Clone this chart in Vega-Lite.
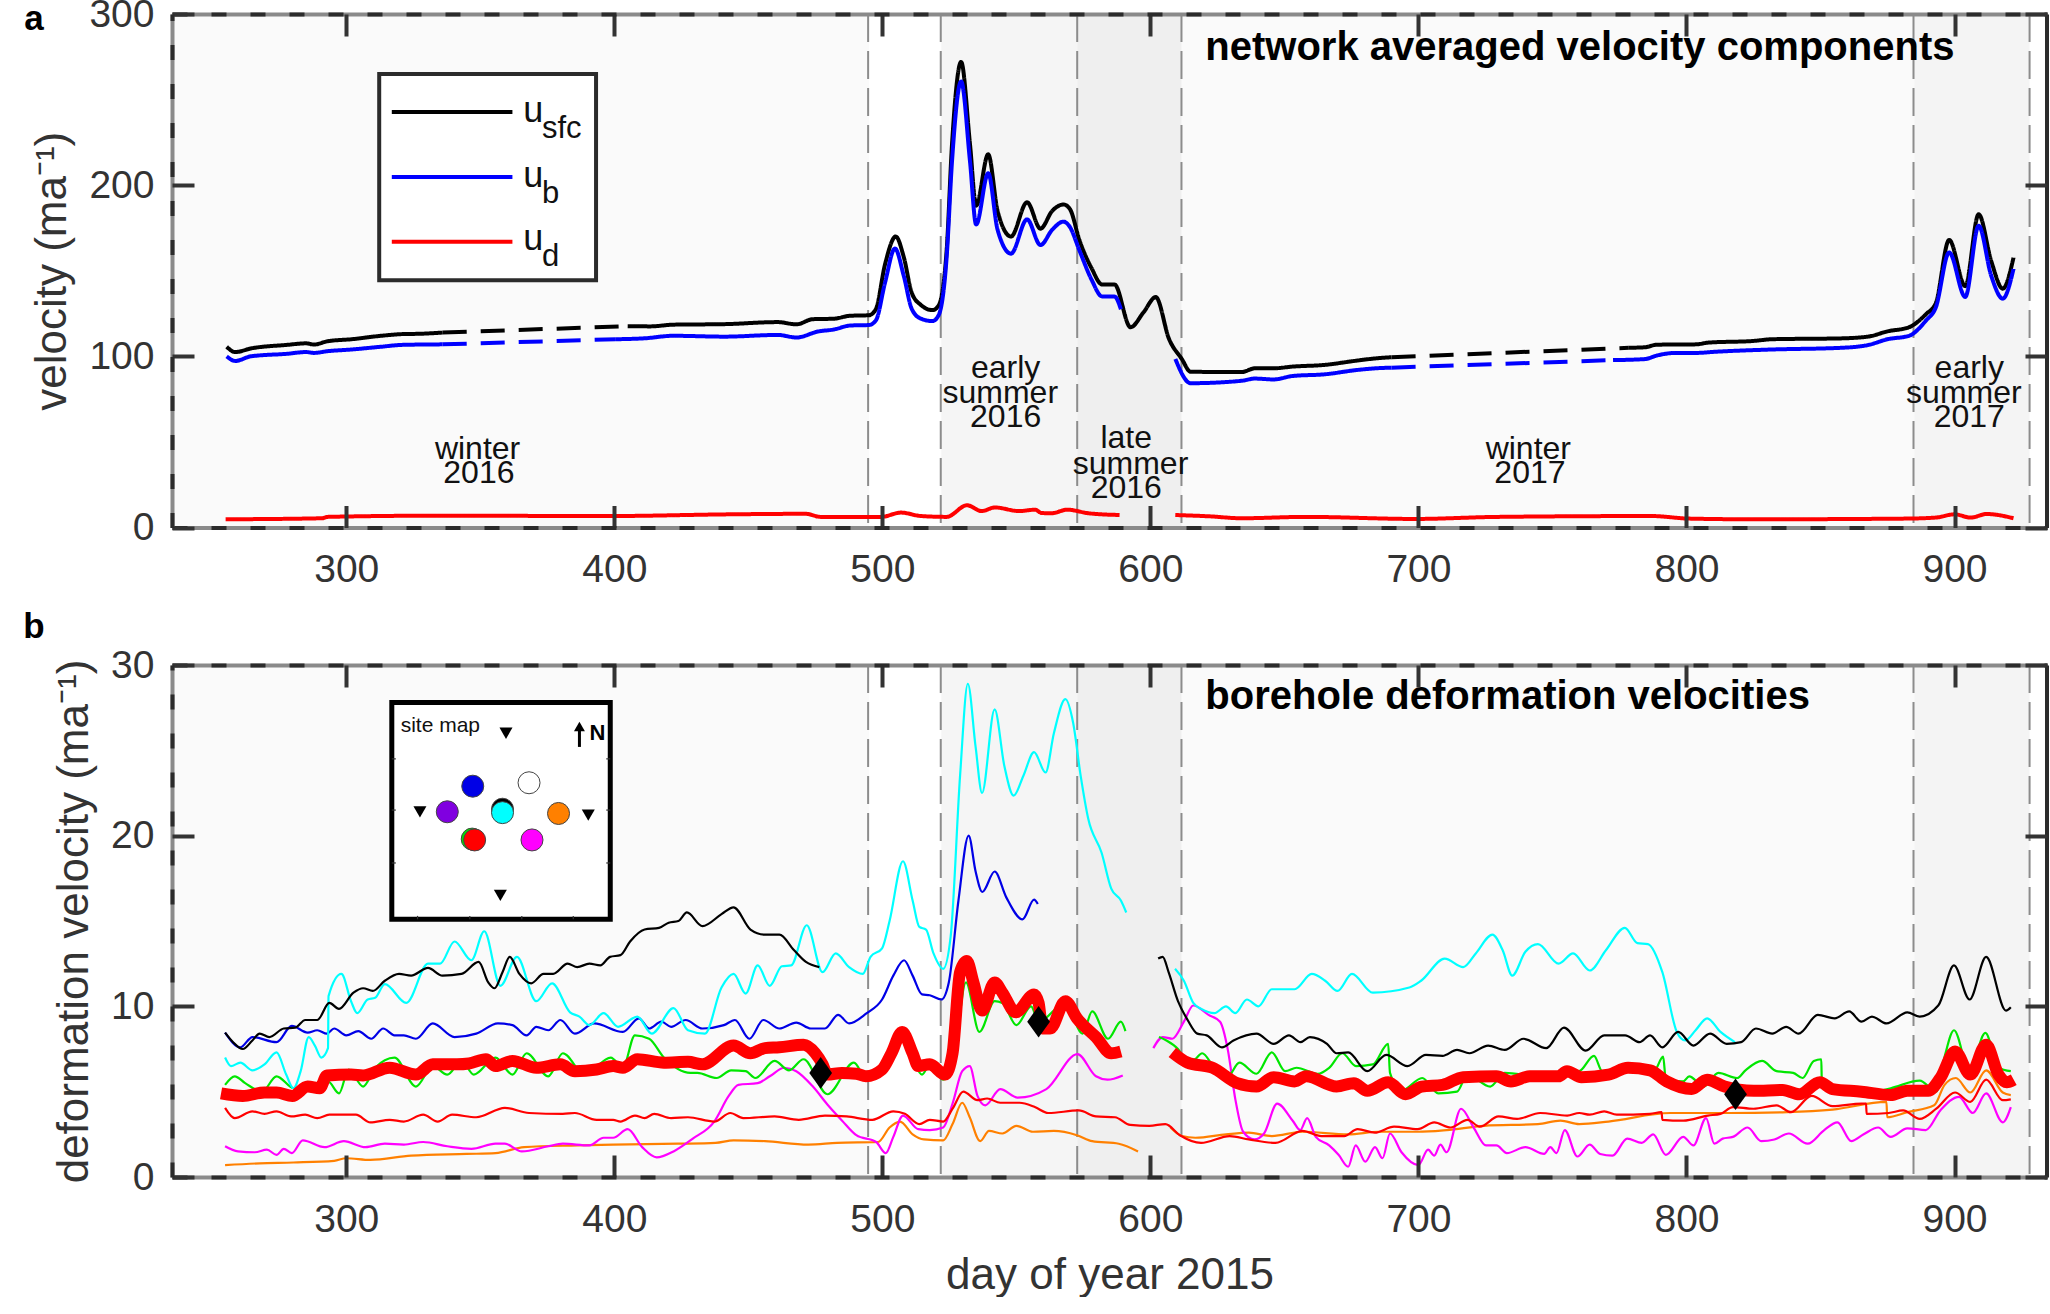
{"$schema":"https://vega.github.io/schema/vega-lite/v6.json","bounds":"flush","spacing":137,"padding":{"left":23,"top":-5,"right":0,"bottom":0},"background":"white","config":{"view":{"stroke":null},"font":"Liberation Sans"},
"resolve":{"scale":{"color":"independent"}},
"datasets":{
"frame":[{"x":300,"v":10}],
"shade":[{"season":"winter 2016","x":235,"x1":495},{"season":"gap","x":495,"x1":522},{"season":"early summer 2016","x":522,"x1":572.7},{"season":"late summer 2016","x":572.7,"x1":611.7},{"season":"winter 2017","x":611.7,"x1":885},{"season":"early summer 2017","x":885,"x1":928}],
"bounds":[{"x":494.7},{"x":521.8},{"x":572.7},{"x":611.6},{"x":884.7},{"x":928}],
"seasonText":[{"x":349,"v":45.8,"t":"winter"},{"x":349.5,"v":31.9,"t":"2016"},{"x":546,"v":93,"t":"early"},{"x":544,"v":78.6,"t":"summer"},{"x":546,"v":64.7,"t":"2016"},{"x":591,"v":52,"t":"late"},{"x":592.6,"v":37,"t":"summer"},{"x":591,"v":22.9,"t":"2016"},{"x":741,"v":45.8,"t":"winter"},{"x":741.6,"v":31.9,"t":"2017"},{"x":905.5,"v":93,"t":"early"},{"x":903.5,"v":78.6,"t":"summer"},{"x":905.5,"v":64.7,"t":"2017"}],
"legendBox":[{"x":312.3,"x1":393.2,"v":265,"v1":144.5}],
"legendLines":[{"s":"usfc","x":317,"x1":362,"v":242.8},{"s":"ub","x":317,"x1":362,"v":204.8},{"s":"ud","x":317,"x1":362,"v":167}],
"legendU":[{"x":366,"v":243.5,"t":"u"},{"x":366,"v":205.5,"t":"u"},{"x":366,"v":168.5,"t":"u"}],
"legendSub":[{"x":373,"v":233,"t":"sfc"},{"x":373,"v":195,"t":"b"},{"x":373,"v":158,"t":"d"}],
"insetBox":[{"x":317,"x1":398.5,"v":27.8,"v1":15.1}],
"insetTicks":[{"x":326.6,"x1":326.6,"v":15.1,"v1":15.3},{"x":346.1,"x1":346.1,"v":15.1,"v1":15.3},{"x":365.5,"x1":365.5,"v":15.1,"v1":15.3},{"x":384.7,"x1":384.7,"v":15.1,"v1":15.3},{"x":317,"x1":318.5,"v":24.5,"v1":24.5},{"x":317,"x1":318.5,"v":21.5,"v1":21.5},{"x":317,"x1":318.5,"v":18.4,"v1":18.4},{"x":397,"x1":398.5,"v":24.5,"v1":24.5},{"x":397,"x1":398.5,"v":21.5,"v1":21.5},{"x":397,"x1":398.5,"v":18.4,"v1":18.4}],
"sites":[{"s":"blue","x":347.2,"v":22.9},{"s":"white","x":368.2,"v":23.1},{"s":"purple","x":337.7,"v":21.4},{"s":"black","x":358.3,"v":21.55},{"s":"cyan","x":358.3,"v":21.35},{"s":"orange","x":379.2,"v":21.3},{"s":"green","x":347,"v":19.8},{"s":"red","x":347.9,"v":19.75},{"s":"magenta","x":369.3,"v":19.75}],
"stakes":[{"x":359.6,"v":26},{"x":327.5,"v":21.4},{"x":390.3,"v":21.2},{"x":357.5,"v":16.5}],
"arrow":[{"x":387,"v":25.2,"v1":26.4}],
"arrowHead":[{"x":387,"v":26.4}],
"diamonds":[{"x":477,"v":6.1},{"x":558.3,"v":9.1},{"x":818.3,"v":4.85}],
"vel":[
{"s":"usfc","g":1,"k":"solid","x":255.4,"v":105.6},{"s":"usfc","g":1,"k":"solid","x":258.6,"v":102.5},{"s":"usfc","g":1,"k":"solid","x":264.4,"v":104.6},{"s":"usfc","g":1,"k":"solid","x":278,"v":106.7},{"s":"usfc","g":1,"k":"solid","x":285,"v":107.6},{"s":"usfc","g":1,"k":"solid","x":288,"v":106.9},{"s":"usfc","g":1,"k":"solid","x":293,"v":108.8},{"s":"usfc","g":1,"k":"solid","x":302,"v":110},{"s":"usfc","g":1,"k":"solid","x":313,"v":112},{"s":"usfc","g":1,"k":"solid","x":321,"v":113},{"s":"usfc","g":1,"k":"solid","x":328,"v":113.2},{"s":"usfc","g":1,"k":"solid","x":336,"v":113.9},
{"s":"usfc","g":2,"k":"dashed","x":336,"v":113.9},{"s":"usfc","g":2,"k":"dashed","x":405,"v":117.6},
{"s":"usfc","g":3,"k":"solid","x":405,"v":117.6},{"s":"usfc","g":3,"k":"solid","x":413.5,"v":117.5},{"s":"usfc","g":3,"k":"solid","x":422,"v":118.5},{"s":"usfc","g":3,"k":"solid","x":441,"v":118.8},{"s":"usfc","g":3,"k":"solid","x":461,"v":120},{"s":"usfc","g":3,"k":"solid","x":468,"v":118.7},{"s":"usfc","g":3,"k":"solid","x":474,"v":121.7},{"s":"usfc","g":3,"k":"solid","x":482,"v":122},{"s":"usfc","g":3,"k":"solid","x":488,"v":123.7},{"s":"usfc","g":3,"k":"solid","x":495,"v":124},{"s":"usfc","g":3,"k":"solid","x":497.6,"v":127.6},{"s":"usfc","g":3,"k":"solid","x":501,"v":153.7},{"s":"usfc","g":3,"k":"solid","x":505,"v":170},{"s":"usfc","g":3,"k":"solid","x":508,"v":158},{"s":"usfc","g":3,"k":"solid","x":511,"v":137},{"s":"usfc","g":3,"k":"solid","x":514.4,"v":130},{"s":"usfc","g":3,"k":"solid","x":518.7,"v":127},{"s":"usfc","g":3,"k":"solid","x":521,"v":129.7},{"s":"usfc","g":3,"k":"solid","x":524,"v":162},{"s":"usfc","g":3,"k":"solid","x":526,"v":224},{"s":"usfc","g":3,"k":"solid","x":529.4,"v":272},{"s":"usfc","g":3,"k":"solid","x":532.7,"v":224},{"s":"usfc","g":3,"k":"solid","x":535,"v":188},{"s":"usfc","g":3,"k":"solid","x":539.5,"v":218},{"s":"usfc","g":3,"k":"solid","x":543,"v":185},{"s":"usfc","g":3,"k":"solid","x":548,"v":170},{"s":"usfc","g":3,"k":"solid","x":554,"v":190},{"s":"usfc","g":3,"k":"solid","x":559,"v":174.6},{"s":"usfc","g":3,"k":"solid","x":563.4,"v":185},{"s":"usfc","g":3,"k":"solid","x":567.6,"v":188.7},{"s":"usfc","g":3,"k":"solid","x":570,"v":186},{"s":"usfc","g":3,"k":"solid","x":573.5,"v":168},{"s":"usfc","g":3,"k":"solid","x":578,"v":151.7},{"s":"usfc","g":3,"k":"solid","x":582,"v":142},{"s":"usfc","g":3,"k":"solid","x":586.6,"v":142},{"s":"usfc","g":3,"k":"solid","x":592.6,"v":117},{"s":"usfc","g":3,"k":"solid","x":597.4,"v":125.6},{"s":"usfc","g":3,"k":"solid","x":602,"v":134.6},{"s":"usfc","g":3,"k":"solid","x":607,"v":110},{"s":"usfc","g":3,"k":"solid","x":611.7,"v":98.5},{"s":"usfc","g":3,"k":"solid","x":615,"v":91},{"s":"usfc","g":3,"k":"solid","x":634,"v":90.8},{"s":"usfc","g":3,"k":"solid","x":639,"v":93},{"s":"usfc","g":3,"k":"solid","x":646,"v":93},{"s":"usfc","g":3,"k":"solid","x":653,"v":94},{"s":"usfc","g":3,"k":"solid","x":665,"v":95},{"s":"usfc","g":3,"k":"solid","x":677,"v":97.5},{"s":"usfc","g":3,"k":"solid","x":684,"v":98.8},{"s":"usfc","g":3,"k":"solid","x":690,"v":99.5},
{"s":"usfc","g":4,"k":"dashed","x":690,"v":99.5},{"s":"usfc","g":4,"k":"dashed","x":778.5,"v":105},
{"s":"usfc","g":5,"k":"solid","x":778.5,"v":105},{"s":"usfc","g":5,"k":"solid","x":784.5,"v":105.3},{"s":"usfc","g":5,"k":"solid","x":789,"v":106.8},{"s":"usfc","g":5,"k":"solid","x":803.6,"v":107},{"s":"usfc","g":5,"k":"solid","x":808,"v":108},{"s":"usfc","g":5,"k":"solid","x":825,"v":109},{"s":"usfc","g":5,"k":"solid","x":832,"v":110},{"s":"usfc","g":5,"k":"solid","x":858,"v":110.5},{"s":"usfc","g":5,"k":"solid","x":868,"v":111.6},{"s":"usfc","g":5,"k":"solid","x":875,"v":114.6},{"s":"usfc","g":5,"k":"solid","x":883,"v":117},{"s":"usfc","g":5,"k":"solid","x":889.4,"v":124.7},{"s":"usfc","g":5,"k":"solid","x":893,"v":131},{"s":"usfc","g":5,"k":"solid","x":898,"v":168},{"s":"usfc","g":5,"k":"solid","x":904,"v":141},{"s":"usfc","g":5,"k":"solid","x":909,"v":183},{"s":"usfc","g":5,"k":"solid","x":913.7,"v":155.6},{"s":"usfc","g":5,"k":"solid","x":918,"v":139.5},{"s":"usfc","g":5,"k":"solid","x":922,"v":157.6},
{"s":"ub","g":1,"k":"solid","x":255.4,"v":100},{"s":"ub","g":1,"k":"solid","x":258.6,"v":97.3},{"s":"ub","g":1,"k":"solid","x":264.4,"v":100},{"s":"ub","g":1,"k":"solid","x":278,"v":101.5},{"s":"ub","g":1,"k":"solid","x":285,"v":102.5},{"s":"ub","g":1,"k":"solid","x":288,"v":102},{"s":"ub","g":1,"k":"solid","x":293,"v":103},{"s":"ub","g":1,"k":"solid","x":302,"v":104},{"s":"ub","g":1,"k":"solid","x":313,"v":105.6},{"s":"ub","g":1,"k":"solid","x":321,"v":106.7},{"s":"ub","g":1,"k":"solid","x":336,"v":107},
{"s":"ub","g":2,"k":"dashed","x":336,"v":107},{"s":"ub","g":2,"k":"dashed","x":400.6,"v":110},
{"s":"ub","g":3,"k":"solid","x":400.6,"v":110},{"s":"ub","g":3,"k":"solid","x":411,"v":110.5},{"s":"ub","g":3,"k":"solid","x":422,"v":112},{"s":"ub","g":3,"k":"solid","x":441,"v":111.5},{"s":"ub","g":3,"k":"solid","x":461,"v":112.5},{"s":"ub","g":3,"k":"solid","x":468,"v":111},{"s":"ub","g":3,"k":"solid","x":476,"v":114.5},{"s":"ub","g":3,"k":"solid","x":482,"v":115.7},{"s":"ub","g":3,"k":"solid","x":488,"v":118},{"s":"ub","g":3,"k":"solid","x":495,"v":118.3},{"s":"ub","g":3,"k":"solid","x":497.6,"v":121},{"s":"ub","g":3,"k":"solid","x":501,"v":143},{"s":"ub","g":3,"k":"solid","x":504.7,"v":163},{"s":"ub","g":3,"k":"solid","x":508,"v":147},{"s":"ub","g":3,"k":"solid","x":511,"v":127.6},{"s":"ub","g":3,"k":"solid","x":514.4,"v":122},{"s":"ub","g":3,"k":"solid","x":518.7,"v":120.6},{"s":"ub","g":3,"k":"solid","x":521,"v":124},{"s":"ub","g":3,"k":"solid","x":524,"v":158},{"s":"ub","g":3,"k":"solid","x":526,"v":214},{"s":"ub","g":3,"k":"solid","x":529.4,"v":260.6},{"s":"ub","g":3,"k":"solid","x":532.7,"v":214},{"s":"ub","g":3,"k":"solid","x":535,"v":177},{"s":"ub","g":3,"k":"solid","x":539.5,"v":207},{"s":"ub","g":3,"k":"solid","x":543,"v":174},{"s":"ub","g":3,"k":"solid","x":548,"v":160},{"s":"ub","g":3,"k":"solid","x":554,"v":180},{"s":"ub","g":3,"k":"solid","x":559,"v":165},{"s":"ub","g":3,"k":"solid","x":563.4,"v":174},{"s":"ub","g":3,"k":"solid","x":567.6,"v":178.7},{"s":"ub","g":3,"k":"solid","x":570,"v":175.5},{"s":"ub","g":3,"k":"solid","x":573.5,"v":162},{"s":"ub","g":3,"k":"solid","x":578,"v":145},{"s":"ub","g":3,"k":"solid","x":582,"v":135},{"s":"ub","g":3,"k":"solid","x":586.6,"v":135},{"s":"ub","g":3,"k":"solid","x":589,"v":127.5},
{"s":"ub","g":4,"k":"solid","x":609.3,"v":98.5},{"s":"ub","g":4,"k":"solid","x":615,"v":84.3},{"s":"ub","g":4,"k":"solid","x":634,"v":85.7},{"s":"ub","g":4,"k":"solid","x":639,"v":87},{"s":"ub","g":4,"k":"solid","x":646,"v":86.5},{"s":"ub","g":4,"k":"solid","x":653,"v":88.5},{"s":"ub","g":4,"k":"solid","x":665,"v":89.5},{"s":"ub","g":4,"k":"solid","x":677,"v":92},{"s":"ub","g":4,"k":"solid","x":684,"v":93},{"s":"ub","g":4,"k":"solid","x":690,"v":93.4},
{"s":"ub","g":5,"k":"dashed","x":690,"v":93.4},{"s":"ub","g":5,"k":"dashed","x":772.6,"v":97.8},
{"s":"ub","g":6,"k":"solid","x":772.6,"v":97.8},{"s":"ub","g":6,"k":"solid","x":784.5,"v":98.4},{"s":"ub","g":6,"k":"solid","x":789,"v":100.5},{"s":"ub","g":6,"k":"solid","x":796,"v":102},{"s":"ub","g":6,"k":"solid","x":803.6,"v":102},{"s":"ub","g":6,"k":"solid","x":811,"v":102.7},{"s":"ub","g":6,"k":"solid","x":832,"v":104},{"s":"ub","g":6,"k":"solid","x":858,"v":105},{"s":"ub","g":6,"k":"solid","x":868,"v":106.7},{"s":"ub","g":6,"k":"solid","x":875,"v":110},{"s":"ub","g":6,"k":"solid","x":883,"v":112},{"s":"ub","g":6,"k":"solid","x":889.4,"v":121},{"s":"ub","g":6,"k":"solid","x":893,"v":128.5},{"s":"ub","g":6,"k":"solid","x":898,"v":160.7},{"s":"ub","g":6,"k":"solid","x":904,"v":134.7},{"s":"ub","g":6,"k":"solid","x":909,"v":176.3},{"s":"ub","g":6,"k":"solid","x":913.7,"v":147},{"s":"ub","g":6,"k":"solid","x":918,"v":133.7},{"s":"ub","g":6,"k":"solid","x":922,"v":151},
{"s":"ud","g":1,"k":"solid","x":255,"v":4.8},{"s":"ud","g":1,"k":"solid","x":291,"v":5.4},{"s":"ud","g":1,"k":"solid","x":293,"v":6.2},{"s":"ud","g":1,"k":"solid","x":334,"v":6.9},{"s":"ud","g":1,"k":"solid","x":398,"v":6.7},{"s":"ud","g":1,"k":"solid","x":443.5,"v":7.7},{"s":"ud","g":1,"k":"solid","x":471.4,"v":8},{"s":"ud","g":1,"k":"solid","x":477,"v":6.2},{"s":"ud","g":1,"k":"solid","x":499.5,"v":6.2},{"s":"ud","g":1,"k":"solid","x":507,"v":8.7},{"s":"ud","g":1,"k":"solid","x":514.4,"v":6.7},{"s":"ud","g":1,"k":"solid","x":524,"v":6.2},{"s":"ud","g":1,"k":"solid","x":531.6,"v":13},{"s":"ud","g":1,"k":"solid","x":537,"v":9.6},{"s":"ud","g":1,"k":"solid","x":542,"v":11.7},{"s":"ud","g":1,"k":"solid","x":551,"v":9.6},{"s":"ud","g":1,"k":"solid","x":557,"v":10.4},{"s":"ud","g":1,"k":"solid","x":559.4,"v":8.5},{"s":"ud","g":1,"k":"solid","x":563,"v":8.3},{"s":"ud","g":1,"k":"solid","x":569,"v":10.4},{"s":"ud","g":1,"k":"solid","x":577,"v":8.3},{"s":"ud","g":1,"k":"solid","x":588.5,"v":7.3},
{"s":"ud","g":2,"k":"solid","x":609.3,"v":7.3},{"s":"ud","g":2,"k":"solid","x":622.4,"v":6.5},{"s":"ud","g":2,"k":"solid","x":634,"v":5.4},{"s":"ud","g":2,"k":"solid","x":658,"v":6.2},{"s":"ud","g":2,"k":"solid","x":698.7,"v":5},{"s":"ud","g":2,"k":"solid","x":729.7,"v":6.2},{"s":"ud","g":2,"k":"solid","x":787,"v":6.7},{"s":"ud","g":2,"k":"solid","x":801,"v":5.2},{"s":"ud","g":2,"k":"solid","x":825,"v":4.8},{"s":"ud","g":2,"k":"solid","x":882,"v":5.2},{"s":"ud","g":2,"k":"solid","x":893,"v":5.8},{"s":"ud","g":2,"k":"solid","x":900,"v":7.7},{"s":"ud","g":2,"k":"solid","x":906,"v":5.8},{"s":"ud","g":2,"k":"solid","x":912,"v":7.9},{"s":"ud","g":2,"k":"solid","x":922,"v":5.4}
],
"def":[
{"s":"orange","g":1,"x":254.8,"v":0.7},{"s":"orange","g":1,"x":267.7,"v":0.8},{"s":"orange","g":1,"x":280.3,"v":0.85},{"s":"orange","g":1,"x":295.5,"v":0.95},{"s":"orange","g":1,"x":300,"v":1.1},{"s":"orange","g":1,"x":309,"v":1},{"s":"orange","g":1,"x":324.2,"v":1.25},{"s":"orange","g":1,"x":344.9,"v":1.35},{"s":"orange","g":1,"x":355.7,"v":1.4},{"s":"orange","g":1,"x":366.4,"v":1.75},{"s":"orange","g":1,"x":386.2,"v":1.85},{"s":"orange","g":1,"x":399.6,"v":1.9},{"s":"orange","g":1,"x":423.9,"v":1.95},{"s":"orange","g":1,"x":437.8,"v":2},{"s":"orange","g":1,"x":444.5,"v":2.15},{"s":"orange","g":1,"x":456.2,"v":2.1},{"s":"orange","g":1,"x":472.4,"v":1.9},{"s":"orange","g":1,"x":483.1,"v":2},{"s":"orange","g":1,"x":498.4,"v":2.05},{"s":"orange","g":1,"x":502.7,"v":2.9},{"s":"orange","g":1,"x":506.6,"v":3.25},{"s":"orange","g":1,"x":511.3,"v":2.5},{"s":"orange","g":1,"x":515.5,"v":2.2},{"s":"orange","g":1,"x":522.7,"v":2.15},{"s":"orange","g":1,"x":526.2,"v":3.1},{"s":"orange","g":1,"x":529.8,"v":4.35},{"s":"orange","g":1,"x":532.6,"v":3.5},{"s":"orange","g":1,"x":536.5,"v":2.1},{"s":"orange","g":1,"x":539.8,"v":2.7},{"s":"orange","g":1,"x":544.8,"v":2.55},{"s":"orange","g":1,"x":550,"v":3},{"s":"orange","g":1,"x":556.2,"v":2.65},{"s":"orange","g":1,"x":564,"v":2.7},{"s":"orange","g":1,"x":572.6,"v":2.45},{"s":"orange","g":1,"x":578.3,"v":2.1},{"s":"orange","g":1,"x":588.2,"v":1.95},{"s":"orange","g":1,"x":595.4,"v":1.5},
{"s":"orange","g":2,"x":607.5,"v":2.9},{"s":"orange","g":2,"x":611.8,"v":2.4},{"s":"orange","g":2,"x":616.8,"v":2.3},{"s":"orange","g":2,"x":628.2,"v":2.5},{"s":"orange","g":2,"x":636.7,"v":2.6},{"s":"orange","g":2,"x":645.3,"v":2.4},{"s":"orange","g":2,"x":656.7,"v":2.65},{"s":"orange","g":2,"x":673.8,"v":2.5},{"s":"orange","g":2,"x":685.2,"v":2.65},{"s":"orange","g":2,"x":699.7,"v":2.65},{"s":"orange","g":2,"x":710.5,"v":2.75},{"s":"orange","g":2,"x":724.5,"v":3},{"s":"orange","g":2,"x":744.6,"v":3.1},{"s":"orange","g":2,"x":753,"v":3.3},{"s":"orange","g":2,"x":760,"v":3.1},{"s":"orange","g":2,"x":770.9,"v":3.25},{"s":"orange","g":2,"x":794,"v":3.75},{"s":"orange","g":2,"x":815.8,"v":3.75},{"s":"orange","g":2,"x":837.5,"v":3.8},{"s":"orange","g":2,"x":854.5,"v":3.95},{"s":"orange","g":2,"x":874.6,"v":4.4},{"s":"orange","g":2,"x":874.9,"v":3.5},{"s":"orange","g":2,"x":882.4,"v":3.8},{"s":"orange","g":2,"x":892.4,"v":4.2},{"s":"orange","g":2,"x":896.3,"v":5.4},{"s":"orange","g":2,"x":900.5,"v":5.8},{"s":"orange","g":2,"x":905.9,"v":4.95},{"s":"orange","g":2,"x":911.8,"v":6.25},{"s":"orange","g":2,"x":918,"v":4.95},{"s":"orange","g":2,"x":921,"v":4.8},
{"s":"magenta","g":1,"x":254.8,"v":1.8},{"s":"magenta","g":1,"x":259.6,"v":1.5},{"s":"magenta","g":1,"x":265.9,"v":1.45},{"s":"magenta","g":1,"x":270.4,"v":1.6},{"s":"magenta","g":1,"x":274,"v":1.3},{"s":"magenta","g":1,"x":276.7,"v":1.65},{"s":"magenta","g":1,"x":279.7,"v":1.4},{"s":"magenta","g":1,"x":283.8,"v":2.15},{"s":"magenta","g":1,"x":291.9,"v":1.75},{"s":"magenta","g":1,"x":299.1,"v":2.1},{"s":"magenta","g":1,"x":307.2,"v":1.75},{"s":"magenta","g":1,"x":314.4,"v":1.95},{"s":"magenta","g":1,"x":321.5,"v":1.9},{"s":"magenta","g":1,"x":328.7,"v":2.05},{"s":"magenta","g":1,"x":337.7,"v":1.8},{"s":"magenta","g":1,"x":346.7,"v":1.65},{"s":"magenta","g":1,"x":355.7,"v":1.95},{"s":"magenta","g":1,"x":359.2,"v":1.95},{"s":"magenta","g":1,"x":365.5,"v":1.5},{"s":"magenta","g":1,"x":375.4,"v":1.8},{"s":"magenta","g":1,"x":380.8,"v":1.95},{"s":"magenta","g":1,"x":390.7,"v":1.85},{"s":"magenta","g":1,"x":396,"v":2.3},{"s":"magenta","g":1,"x":399.6,"v":2.3},{"s":"magenta","g":1,"x":405,"v":2.8},{"s":"magenta","g":1,"x":410.4,"v":1.75},{"s":"magenta","g":1,"x":415.8,"v":1.15},{"s":"magenta","g":1,"x":422.1,"v":1.5},{"s":"magenta","g":1,"x":429.3,"v":2.25},{"s":"magenta","g":1,"x":437.3,"v":3.25},{"s":"magenta","g":1,"x":442.7,"v":4.75},{"s":"magenta","g":1,"x":446.3,"v":5.4},{"s":"magenta","g":1,"x":453.5,"v":5.5},{"s":"magenta","g":1,"x":458,"v":5.9},{"s":"magenta","g":1,"x":463.4,"v":6.4},{"s":"magenta","g":1,"x":467.9,"v":6.2},{"s":"magenta","g":1,"x":474.1,"v":5.3},{"s":"magenta","g":1,"x":479.5,"v":4.25},{"s":"magenta","g":1,"x":485,"v":3.3},{"s":"magenta","g":1,"x":490.3,"v":2.45},{"s":"magenta","g":1,"x":497.7,"v":2.05},{"s":"magenta","g":1,"x":501.3,"v":1.4},{"s":"magenta","g":1,"x":504.1,"v":2.35},{"s":"magenta","g":1,"x":507.7,"v":3.6},{"s":"magenta","g":1,"x":513.4,"v":2.8},{"s":"magenta","g":1,"x":517.7,"v":2.75},{"s":"magenta","g":1,"x":522.7,"v":2.9},{"s":"magenta","g":1,"x":526.2,"v":4.3},{"s":"magenta","g":1,"x":529.8,"v":6.2},{"s":"magenta","g":1,"x":532.6,"v":6.5},{"s":"magenta","g":1,"x":535.5,"v":4.75},{"s":"magenta","g":1,"x":538.4,"v":4.2},{"s":"magenta","g":1,"x":544,"v":5.15},{"s":"magenta","g":1,"x":550.5,"v":4.65},{"s":"magenta","g":1,"x":561.2,"v":5.15},{"s":"magenta","g":1,"x":572.8,"v":7.2},{"s":"magenta","g":1,"x":579.7,"v":5.9},{"s":"magenta","g":1,"x":584,"v":5.7},{"s":"magenta","g":1,"x":589.7,"v":5.95},
{"s":"magenta","g":2,"x":601.1,"v":7.55},{"s":"magenta","g":2,"x":604.6,"v":8.2},{"s":"magenta","g":2,"x":608.2,"v":8.1},{"s":"magenta","g":2,"x":612.5,"v":9.1},{"s":"magenta","g":2,"x":616,"v":10.05},{"s":"magenta","g":2,"x":621.7,"v":9.5},{"s":"magenta","g":2,"x":626,"v":9.1},{"s":"magenta","g":2,"x":628.9,"v":7.45},{"s":"magenta","g":2,"x":631.7,"v":4.55},{"s":"magenta","g":2,"x":634.6,"v":2.65},{"s":"magenta","g":2,"x":638.8,"v":2.2},{"s":"magenta","g":2,"x":642.4,"v":2.55},{"s":"magenta","g":2,"x":647.3,"v":4.3},{"s":"magenta","g":2,"x":653.1,"v":3.3},{"s":"magenta","g":2,"x":655.9,"v":2.75},{"s":"magenta","g":2,"x":658.5,"v":3.45},{"s":"magenta","g":2,"x":661.7,"v":2.35},{"s":"magenta","g":2,"x":666.7,"v":1.85},{"s":"magenta","g":2,"x":670.2,"v":1.3},{"s":"magenta","g":2,"x":673.8,"v":0.6},{"s":"magenta","g":2,"x":676.6,"v":1.85},{"s":"magenta","g":2,"x":680.2,"v":0.9},{"s":"magenta","g":2,"x":683.8,"v":1.75},{"s":"magenta","g":2,"x":686.6,"v":1.1},{"s":"magenta","g":2,"x":689.4,"v":2.55},{"s":"magenta","g":2,"x":693.7,"v":1.45},{"s":"magenta","g":2,"x":700,"v":0.7},{"s":"magenta","g":2,"x":703.6,"v":1.6},{"s":"magenta","g":2,"x":705.9,"v":1.25},{"s":"magenta","g":2,"x":708.2,"v":1.9},{"s":"magenta","g":2,"x":710.5,"v":1.45},{"s":"magenta","g":2,"x":715.9,"v":4},{"s":"magenta","g":2,"x":720.6,"v":2.9},{"s":"magenta","g":2,"x":725.2,"v":1.85},{"s":"magenta","g":2,"x":729.1,"v":1.85},{"s":"magenta","g":2,"x":733,"v":1.4},{"s":"magenta","g":2,"x":739.9,"v":1.75},{"s":"magenta","g":2,"x":746.9,"v":1.35},{"s":"magenta","g":2,"x":749.2,"v":1.75},{"s":"magenta","g":2,"x":751.5,"v":1.4},{"s":"magenta","g":2,"x":754.6,"v":2.75},{"s":"magenta","g":2,"x":759.3,"v":1.2},{"s":"magenta","g":2,"x":763.9,"v":1.9},{"s":"magenta","g":2,"x":767.8,"v":1.35},{"s":"magenta","g":2,"x":772.4,"v":1.25},{"s":"magenta","g":2,"x":777.9,"v":2.25},{"s":"magenta","g":2,"x":783.3,"v":2},{"s":"magenta","g":2,"x":787.6,"v":2.5},{"s":"magenta","g":2,"x":792.3,"v":1.3},{"s":"magenta","g":2,"x":798.8,"v":2.35},{"s":"magenta","g":2,"x":802.6,"v":1.85},{"s":"magenta","g":2,"x":807.3,"v":3.45},{"s":"magenta","g":2,"x":810.4,"v":1.95},{"s":"magenta","g":2,"x":813.5,"v":2.25},{"s":"magenta","g":2,"x":817.3,"v":2.35},{"s":"magenta","g":2,"x":822.8,"v":2.9},{"s":"magenta","g":2,"x":827.9,"v":2.1},{"s":"magenta","g":2,"x":832.8,"v":2.2},{"s":"magenta","g":2,"x":838.2,"v":2.55},{"s":"magenta","g":2,"x":845.2,"v":1.95},{"s":"magenta","g":2,"x":851.4,"v":2.75},{"s":"magenta","g":2,"x":856.3,"v":3.2},{"s":"magenta","g":2,"x":861.5,"v":2.1},{"s":"magenta","g":2,"x":866.1,"v":2.5},{"s":"magenta","g":2,"x":871.5,"v":2.9},{"s":"magenta","g":2,"x":876.2,"v":2.35},{"s":"magenta","g":2,"x":882.4,"v":2.85},{"s":"magenta","g":2,"x":889.3,"v":2.75},{"s":"magenta","g":2,"x":894.7,"v":3.9},{"s":"magenta","g":2,"x":901.7,"v":4.7},{"s":"magenta","g":2,"x":906.8,"v":3.75},{"s":"magenta","g":2,"x":911.8,"v":4.9},{"s":"magenta","g":2,"x":918,"v":3.2},{"s":"magenta","g":2,"x":921,"v":4.1},
{"s":"green","g":1,"x":254.8,"v":5.4},{"s":"green","g":1,"x":258.4,"v":5.9},{"s":"green","g":1,"x":262.3,"v":5.5},{"s":"green","g":1,"x":268.6,"v":5},{"s":"green","g":1,"x":274,"v":5.9},{"s":"green","g":1,"x":280.3,"v":5.2},{"s":"green","g":1,"x":289.2,"v":5.1},{"s":"green","g":1,"x":293.2,"v":5.6},{"s":"green","g":1,"x":297.3,"v":4.9},{"s":"green","g":1,"x":300.9,"v":6.3},{"s":"green","g":1,"x":306.3,"v":5.3},{"s":"green","g":1,"x":310.8,"v":6.4},{"s":"green","g":1,"x":318,"v":7},{"s":"green","g":1,"x":326,"v":5.3},{"s":"green","g":1,"x":332.3,"v":6.5},{"s":"green","g":1,"x":337.7,"v":6},{"s":"green","g":1,"x":343,"v":6.8},{"s":"green","g":1,"x":347.6,"v":6},{"s":"green","g":1,"x":355.7,"v":7},{"s":"green","g":1,"x":362,"v":6},{"s":"green","g":1,"x":367.3,"v":7.25},{"s":"green","g":1,"x":375.4,"v":5.9},{"s":"green","g":1,"x":380.8,"v":7.25},{"s":"green","g":1,"x":388.9,"v":6},{"s":"green","g":1,"x":398.7,"v":7},{"s":"green","g":1,"x":403.2,"v":6.4},{"s":"green","g":1,"x":407.7,"v":8.3},{"s":"green","g":1,"x":413,"v":8.1},{"s":"green","g":1,"x":418.5,"v":7},{"s":"green","g":1,"x":428.4,"v":6.1},{"s":"green","g":1,"x":431,"v":6.1},{"s":"green","g":1,"x":438.2,"v":5.8},{"s":"green","g":1,"x":443.6,"v":6.25},{"s":"green","g":1,"x":449,"v":6.2},{"s":"green","g":1,"x":452.6,"v":5.8},{"s":"green","g":1,"x":459.8,"v":6.8},{"s":"green","g":1,"x":465.2,"v":6.25},{"s":"green","g":1,"x":470.6,"v":6.9},{"s":"green","g":1,"x":479.5,"v":4.85},{"s":"green","g":1,"x":489.4,"v":6.7},{"s":"green","g":1,"x":493.9,"v":5.8},{"s":"green","g":1,"x":500,"v":6},{"s":"green","g":1,"x":507,"v":8},{"s":"green","g":1,"x":511,"v":7},{"s":"green","g":1,"x":514.8,"v":6},{"s":"green","g":1,"x":517.7,"v":6.6},{"s":"green","g":1,"x":522.7,"v":5.7},{"s":"green","g":1,"x":526.2,"v":6.4},{"s":"green","g":1,"x":531.2,"v":11.4},{"s":"green","g":1,"x":536.2,"v":8.5},{"s":"green","g":1,"x":541.9,"v":10.3},{"s":"green","g":1,"x":544.8,"v":10.2},{"s":"green","g":1,"x":550,"v":8.9},{"s":"green","g":1,"x":555.5,"v":10},{"s":"green","g":1,"x":558.3,"v":9.1},{"s":"green","g":1,"x":568.3,"v":10.2},{"s":"green","g":1,"x":574.7,"v":8.4},{"s":"green","g":1,"x":578.3,"v":9.7},{"s":"green","g":1,"x":584.2,"v":8.1},{"s":"green","g":1,"x":589,"v":9.1},{"s":"green","g":1,"x":590.7,"v":8.55},
{"s":"green","g":2,"x":603.2,"v":8.2},{"s":"green","g":2,"x":606,"v":8},{"s":"green","g":2,"x":610.3,"v":7.5},{"s":"green","g":2,"x":613.9,"v":6.7},{"s":"green","g":2,"x":616.7,"v":6.9},{"s":"green","g":2,"x":619.3,"v":7.25},{"s":"green","g":2,"x":623.9,"v":6.4},{"s":"green","g":2,"x":628.9,"v":5.9},{"s":"green","g":2,"x":633.2,"v":6.7},{"s":"green","g":2,"x":639.6,"v":6.05},{"s":"green","g":2,"x":645.3,"v":7.3},{"s":"green","g":2,"x":650.3,"v":6.2},{"s":"green","g":2,"x":654.5,"v":6.4},{"s":"green","g":2,"x":662.4,"v":6.05},{"s":"green","g":2,"x":666.7,"v":6.4},{"s":"green","g":2,"x":671.6,"v":7.25},{"s":"green","g":2,"x":676.7,"v":6.5},{"s":"green","g":2,"x":683,"v":6.6},{"s":"green","g":2,"x":688.7,"v":7.8},{"s":"green","g":2,"x":689.4,"v":6.1},{"s":"green","g":2,"x":693.7,"v":5.05},{"s":"green","g":2,"x":701.4,"v":5.8},{"s":"green","g":2,"x":707.4,"v":4.9},{"s":"green","g":2,"x":714.4,"v":5},{"s":"green","g":2,"x":718.3,"v":6},{"s":"green","g":2,"x":726.8,"v":5.3},{"s":"green","g":2,"x":732.2,"v":6.1},{"s":"green","g":2,"x":745,"v":5.9},{"s":"green","g":2,"x":760,"v":6.2},{"s":"green","g":2,"x":765.5,"v":7.1},{"s":"green","g":2,"x":768.6,"v":6.2},{"s":"green","g":2,"x":778,"v":6.3},{"s":"green","g":2,"x":787.9,"v":6.2},{"s":"green","g":2,"x":791.3,"v":7.05},{"s":"green","g":2,"x":792.3,"v":5.7},{"s":"green","g":2,"x":798.8,"v":5.6},{"s":"green","g":2,"x":801,"v":5.9},{"s":"green","g":2,"x":806.5,"v":5.3},{"s":"green","g":2,"x":811.9,"v":6.1},{"s":"green","g":2,"x":818.9,"v":5.8},{"s":"green","g":2,"x":822,"v":6.25},{"s":"green","g":2,"x":828.2,"v":6.8},{"s":"green","g":2,"x":833.6,"v":6.2},{"s":"green","g":2,"x":839.8,"v":6.1},{"s":"green","g":2,"x":843.3,"v":5.8},{"s":"green","g":2,"x":847.5,"v":6.8},{"s":"green","g":2,"x":850.3,"v":6.9},{"s":"green","g":2,"x":850.5,"v":5.5},{"s":"green","g":2,"x":863.8,"v":4.85},{"s":"green","g":2,"x":876.2,"v":5.2},{"s":"green","g":2,"x":887,"v":5.65},{"s":"green","g":2,"x":893.2,"v":5},{"s":"green","g":2,"x":896.3,"v":7.05},{"s":"green","g":2,"x":899.8,"v":8.6},{"s":"green","g":2,"x":905.6,"v":6.2},{"s":"green","g":2,"x":911.5,"v":8.45},{"s":"green","g":2,"x":916.4,"v":6.4},{"s":"green","g":2,"x":921,"v":6.2},
{"s":"red","g":1,"x":254.8,"v":4.05},{"s":"red","g":1,"x":258.4,"v":3.45},{"s":"red","g":1,"x":265,"v":3.85},{"s":"red","g":1,"x":269.5,"v":3.7},{"s":"red","g":1,"x":274,"v":3.85},{"s":"red","g":1,"x":279.4,"v":3.55},{"s":"red","g":1,"x":284.7,"v":3.65},{"s":"red","g":1,"x":289.2,"v":3.45},{"s":"red","g":1,"x":293.7,"v":3.65},{"s":"red","g":1,"x":303.6,"v":3.65},{"s":"red","g":1,"x":309,"v":3.2},{"s":"red","g":1,"x":316.2,"v":3.35},{"s":"red","g":1,"x":321.5,"v":3.25},{"s":"red","g":1,"x":328.7,"v":3.65},{"s":"red","g":1,"x":334.1,"v":3.25},{"s":"red","g":1,"x":339.5,"v":3.65},{"s":"red","g":1,"x":348.5,"v":3.5},{"s":"red","g":1,"x":359.2,"v":4.05},{"s":"red","g":1,"x":368.2,"v":3.75},{"s":"red","g":1,"x":380.8,"v":3.7},{"s":"red","g":1,"x":385.3,"v":3.75},{"s":"red","g":1,"x":393.4,"v":3.35},{"s":"red","g":1,"x":399.6,"v":3.35},{"s":"red","g":1,"x":402.3,"v":3.25},{"s":"red","g":1,"x":407.7,"v":3.6},{"s":"red","g":1,"x":411.3,"v":3.45},{"s":"red","g":1,"x":414.9,"v":3.7},{"s":"red","g":1,"x":421.2,"v":3.45},{"s":"red","g":1,"x":427.5,"v":3.5},{"s":"red","g":1,"x":437.3,"v":3.25},{"s":"red","g":1,"x":443.3,"v":3.75},{"s":"red","g":1,"x":448.1,"v":3.45},{"s":"red","g":1,"x":459.8,"v":3.55},{"s":"red","g":1,"x":468.8,"v":3.35},{"s":"red","g":1,"x":478.6,"v":3.6},{"s":"red","g":1,"x":486.7,"v":3.55},{"s":"red","g":1,"x":496.3,"v":3.35},{"s":"red","g":1,"x":504.1,"v":3.85},{"s":"red","g":1,"x":508.4,"v":3.7},{"s":"red","g":1,"x":513.8,"v":3.1},{"s":"red","g":1,"x":517.7,"v":3.35},{"s":"red","g":1,"x":522.7,"v":3.25},{"s":"red","g":1,"x":526.2,"v":4},{"s":"red","g":1,"x":530.2,"v":5},{"s":"red","g":1,"x":535.5,"v":4.5},{"s":"red","g":1,"x":539.1,"v":4.6},{"s":"red","g":1,"x":544,"v":4.35},{"s":"red","g":1,"x":551.2,"v":4.35},{"s":"red","g":1,"x":556.9,"v":4.1},{"s":"red","g":1,"x":561.9,"v":3.75},{"s":"red","g":1,"x":573.3,"v":3.9},{"s":"red","g":1,"x":579.7,"v":3.55},{"s":"red","g":1,"x":586.8,"v":3.5},{"s":"red","g":1,"x":592.5,"v":3.05},{"s":"red","g":1,"x":599.6,"v":3},{"s":"red","g":1,"x":605.6,"v":3.1},{"s":"red","g":1,"x":611,"v":2.45},{"s":"red","g":1,"x":618.9,"v":2},{"s":"red","g":1,"x":629.6,"v":2.4},{"s":"red","g":1,"x":636.7,"v":2.2},{"s":"red","g":1,"x":646.7,"v":2},{"s":"red","g":1,"x":656.7,"v":2.7},{"s":"red","g":1,"x":663.8,"v":2.4},{"s":"red","g":1,"x":672.3,"v":2.4},{"s":"red","g":1,"x":677.3,"v":2.8},{"s":"red","g":1,"x":683.7,"v":2.6},{"s":"red","g":1,"x":690.9,"v":2.95},{"s":"red","g":1,"x":699.7,"v":2.8},{"s":"red","g":1,"x":705.9,"v":3.2},{"s":"red","g":1,"x":712,"v":2.9},{"s":"red","g":1,"x":718.3,"v":3.35},{"s":"red","g":1,"x":722.9,"v":2.95},{"s":"red","g":1,"x":729.9,"v":3.55},{"s":"red","g":1,"x":736.8,"v":3.4},{"s":"red","g":1,"x":745.4,"v":3.75},{"s":"red","g":1,"x":755.5,"v":3.6},{"s":"red","g":1,"x":760,"v":3.75},{"s":"red","g":1,"x":763.9,"v":3.65},{"s":"red","g":1,"x":769.3,"v":3.85},{"s":"red","g":1,"x":774,"v":3.65},{"s":"red","g":1,"x":786.4,"v":3.7},{"s":"red","g":1,"x":790.7,"v":3.8},{"s":"red","g":1,"x":791,"v":3.35},{"s":"red","g":1,"x":798.8,"v":3.3},{"s":"red","g":1,"x":808,"v":3.6},{"s":"red","g":1,"x":812.7,"v":3.7},{"s":"red","g":1,"x":817.3,"v":4.1},{"s":"red","g":1,"x":825,"v":4},{"s":"red","g":1,"x":833.6,"v":4.2},{"s":"red","g":1,"x":839,"v":3.8},{"s":"red","g":1,"x":846.7,"v":4.75},{"s":"red","g":1,"x":854.5,"v":4.15},{"s":"red","g":1,"x":865.3,"v":4.3},{"s":"red","g":1,"x":867,"v":4.3},{"s":"red","g":1,"x":867.2,"v":3.7},{"s":"red","g":1,"x":875.4,"v":3.75},{"s":"red","g":1,"x":880.8,"v":3.9},{"s":"red","g":1,"x":887,"v":3.4},{"s":"red","g":1,"x":893.2,"v":4},{"s":"red","g":1,"x":900.2,"v":4.95},{"s":"red","g":1,"x":905.9,"v":4.4},{"s":"red","g":1,"x":911.8,"v":5.7},{"s":"red","g":1,"x":918,"v":4.5},{"s":"red","g":1,"x":921,"v":4.55},
{"s":"blue","g":1,"x":254.8,"v":8.46},{"s":"blue","g":1,"x":260.5,"v":7.6},{"s":"blue","g":1,"x":265,"v":8.2},{"s":"blue","g":1,"x":274,"v":7.9},{"s":"blue","g":1,"x":279.7,"v":8.85},{"s":"blue","g":1,"x":285.6,"v":8.46},{"s":"blue","g":1,"x":289.2,"v":8.6},{"s":"blue","g":1,"x":292.8,"v":8.4},{"s":"blue","g":1,"x":295.5,"v":8.7},{"s":"blue","g":1,"x":300,"v":8.3},{"s":"blue","g":1,"x":304.5,"v":8.55},{"s":"blue","g":1,"x":309.3,"v":8.1},{"s":"blue","g":1,"x":313.8,"v":8.7},{"s":"blue","g":1,"x":318,"v":8.3},{"s":"blue","g":1,"x":321.5,"v":8.3},{"s":"blue","g":1,"x":326,"v":8.1},{"s":"blue","g":1,"x":332.3,"v":9},{"s":"blue","g":1,"x":340.4,"v":8.2},{"s":"blue","g":1,"x":348.5,"v":8.4},{"s":"blue","g":1,"x":356.6,"v":9},{"s":"blue","g":1,"x":362,"v":8.9},{"s":"blue","g":1,"x":367.3,"v":8.3},{"s":"blue","g":1,"x":370.9,"v":8.8},{"s":"blue","g":1,"x":375.4,"v":8.6},{"s":"blue","g":1,"x":379.9,"v":9.2},{"s":"blue","g":1,"x":385.3,"v":8.4},{"s":"blue","g":1,"x":392.5,"v":9},{"s":"blue","g":1,"x":403.2,"v":8.5},{"s":"blue","g":1,"x":409.2,"v":9.3},{"s":"blue","g":1,"x":413,"v":8.7},{"s":"blue","g":1,"x":417.6,"v":9.1},{"s":"blue","g":1,"x":421.2,"v":8.8},{"s":"blue","g":1,"x":426.6,"v":9.2},{"s":"blue","g":1,"x":432.9,"v":8.7},{"s":"blue","g":1,"x":440.9,"v":8.9},{"s":"blue","g":1,"x":445,"v":9.2},{"s":"blue","g":1,"x":450.4,"v":8.1},{"s":"blue","g":1,"x":455.6,"v":9.2},{"s":"blue","g":1,"x":461.6,"v":8.7},{"s":"blue","g":1,"x":467.9,"v":9.05},{"s":"blue","g":1,"x":473.3,"v":8.7},{"s":"blue","g":1,"x":478.6,"v":8.7},{"s":"blue","g":1,"x":483.5,"v":9.5},{"s":"blue","g":1,"x":487.6,"v":9},{"s":"blue","g":1,"x":494.2,"v":9.6},{"s":"blue","g":1,"x":499.9,"v":10.4},{"s":"blue","g":1,"x":504.1,"v":11.8},{"s":"blue","g":1,"x":508.1,"v":12.7},{"s":"blue","g":1,"x":511.3,"v":11.8},{"s":"blue","g":1,"x":514.8,"v":10.7},{"s":"blue","g":1,"x":517.7,"v":10.65},{"s":"blue","g":1,"x":522,"v":10.4},{"s":"blue","g":1,"x":524.8,"v":11.4},{"s":"blue","g":1,"x":528.4,"v":16.2},{"s":"blue","g":1,"x":532.2,"v":20},{"s":"blue","g":1,"x":534.8,"v":17.9},{"s":"blue","g":1,"x":537.3,"v":16.7},{"s":"blue","g":1,"x":541.9,"v":17.9},{"s":"blue","g":1,"x":546.2,"v":16.4},{"s":"blue","g":1,"x":552.3,"v":15.1},{"s":"blue","g":1,"x":556.6,"v":16.25},{"s":"blue","g":1,"x":558,"v":16},
{"s":"cyan","g":1,"x":254.8,"v":7},{"s":"cyan","g":1,"x":257,"v":6.5},{"s":"cyan","g":1,"x":260.5,"v":6.7},{"s":"cyan","g":1,"x":265,"v":6.25},{"s":"cyan","g":1,"x":269.5,"v":6.6},{"s":"cyan","g":1,"x":274,"v":7.3},{"s":"cyan","g":1,"x":277.6,"v":6},{"s":"cyan","g":1,"x":280.3,"v":5.2},{"s":"cyan","g":1,"x":283,"v":6.2},{"s":"cyan","g":1,"x":286,"v":8.2},{"s":"cyan","g":1,"x":288.3,"v":7.7},{"s":"cyan","g":1,"x":290.7,"v":7},{"s":"cyan","g":1,"x":293.2,"v":7.55},{"s":"cyan","g":1,"x":293.4,"v":10.6},{"s":"cyan","g":1,"x":298.2,"v":11.9},{"s":"cyan","g":1,"x":301.8,"v":10.3},{"s":"cyan","g":1,"x":304.1,"v":9.6},{"s":"cyan","g":1,"x":308,"v":10.4},{"s":"cyan","g":1,"x":310.8,"v":10.5},{"s":"cyan","g":1,"x":314.4,"v":11.3},{"s":"cyan","g":1,"x":322.4,"v":10.2},{"s":"cyan","g":1,"x":330.5,"v":12.5},{"s":"cyan","g":1,"x":335,"v":12.5},{"s":"cyan","g":1,"x":340.4,"v":13.8},{"s":"cyan","g":1,"x":346.7,"v":12.7},{"s":"cyan","g":1,"x":351.5,"v":14.4},{"s":"cyan","g":1,"x":357.5,"v":11.2},{"s":"cyan","g":1,"x":363.7,"v":12.9},{"s":"cyan","g":1,"x":370.9,"v":10.3},{"s":"cyan","g":1,"x":376.8,"v":11.35},{"s":"cyan","g":1,"x":383.5,"v":9.65},{"s":"cyan","g":1,"x":387,"v":9.4},{"s":"cyan","g":1,"x":390.7,"v":8.9},{"s":"cyan","g":1,"x":396,"v":9.6},{"s":"cyan","g":1,"x":401.4,"v":8.8},{"s":"cyan","g":1,"x":408.6,"v":9.4},{"s":"cyan","g":1,"x":414,"v":8.4},{"s":"cyan","g":1,"x":422.1,"v":9.9},{"s":"cyan","g":1,"x":427.5,"v":8.6},{"s":"cyan","g":1,"x":433.8,"v":8.4},{"s":"cyan","g":1,"x":440,"v":11.1},{"s":"cyan","g":1,"x":444.5,"v":11.9},{"s":"cyan","g":1,"x":449,"v":10.75},{"s":"cyan","g":1,"x":453.5,"v":12.4},{"s":"cyan","g":1,"x":458,"v":11.2},{"s":"cyan","g":1,"x":462.5,"v":12.35},{"s":"cyan","g":1,"x":466,"v":12.4},{"s":"cyan","g":1,"x":471.8,"v":14.75},{"s":"cyan","g":1,"x":477.7,"v":12},{"s":"cyan","g":1,"x":482.6,"v":13.1},{"s":"cyan","g":1,"x":487.6,"v":12.3},{"s":"cyan","g":1,"x":492.7,"v":11.9},{"s":"cyan","g":1,"x":495.6,"v":12.9},{"s":"cyan","g":1,"x":499.9,"v":13.4},{"s":"cyan","g":1,"x":502.7,"v":15},{"s":"cyan","g":1,"x":507.7,"v":18.5},{"s":"cyan","g":1,"x":511.3,"v":16.2},{"s":"cyan","g":1,"x":513.8,"v":14.65},{"s":"cyan","g":1,"x":516.3,"v":14.5},{"s":"cyan","g":1,"x":519.1,"v":13.1},{"s":"cyan","g":1,"x":522.7,"v":12.2},{"s":"cyan","g":1,"x":525.5,"v":14.1},{"s":"cyan","g":1,"x":529,"v":23.5},{"s":"cyan","g":1,"x":531.9,"v":28.9},{"s":"cyan","g":1,"x":534.8,"v":25.2},{"s":"cyan","g":1,"x":537.2,"v":22.5},{"s":"cyan","g":1,"x":541.9,"v":27.4},{"s":"cyan","g":1,"x":545.5,"v":24.1},{"s":"cyan","g":1,"x":549,"v":22.35},{"s":"cyan","g":1,"x":552.6,"v":23.5},{"s":"cyan","g":1,"x":556.6,"v":24.9},{"s":"cyan","g":1,"x":560.9,"v":23.7},{"s":"cyan","g":1,"x":564,"v":26},{"s":"cyan","g":1,"x":568.3,"v":28},{"s":"cyan","g":1,"x":571.2,"v":26.6},{"s":"cyan","g":1,"x":574,"v":23.5},{"s":"cyan","g":1,"x":576.8,"v":21},{"s":"cyan","g":1,"x":581.8,"v":19},{"s":"cyan","g":1,"x":585.4,"v":16.9},{"s":"cyan","g":1,"x":589,"v":16.2},{"s":"cyan","g":1,"x":591,"v":15.5},
{"s":"cyan","g":2,"x":609.2,"v":12.2},{"s":"cyan","g":2,"x":612.5,"v":11.5},{"s":"cyan","g":2,"x":616,"v":10.2},{"s":"cyan","g":2,"x":619,"v":9.85},{"s":"cyan","g":2,"x":623.9,"v":9.6},{"s":"cyan","g":2,"x":628.2,"v":10},{"s":"cyan","g":2,"x":631.7,"v":9.6},{"s":"cyan","g":2,"x":636,"v":10.4},{"s":"cyan","g":2,"x":640.3,"v":10},{"s":"cyan","g":2,"x":645.3,"v":11},{"s":"cyan","g":2,"x":653.8,"v":11},{"s":"cyan","g":2,"x":660.2,"v":11.9},{"s":"cyan","g":2,"x":665.2,"v":11.5},{"s":"cyan","g":2,"x":669.8,"v":10.9},{"s":"cyan","g":2,"x":675.2,"v":11.9},{"s":"cyan","g":2,"x":683,"v":10.8},{"s":"cyan","g":2,"x":696.6,"v":11.1},{"s":"cyan","g":2,"x":701,"v":11.5},{"s":"cyan","g":2,"x":709.8,"v":12.8},{"s":"cyan","g":2,"x":716.7,"v":12.3},{"s":"cyan","g":2,"x":721.4,"v":13.1},{"s":"cyan","g":2,"x":727.6,"v":14.2},{"s":"cyan","g":2,"x":731.4,"v":13.3},{"s":"cyan","g":2,"x":735,"v":11.8},{"s":"cyan","g":2,"x":739.9,"v":13.2},{"s":"cyan","g":2,"x":744.6,"v":13.65},{"s":"cyan","g":2,"x":752.3,"v":12.5},{"s":"cyan","g":2,"x":757.7,"v":13.1},{"s":"cyan","g":2,"x":763.9,"v":12.1},{"s":"cyan","g":2,"x":770,"v":13.3},{"s":"cyan","g":2,"x":777,"v":14.6},{"s":"cyan","g":2,"x":781.7,"v":13.7},{"s":"cyan","g":2,"x":785.6,"v":13.65},{"s":"cyan","g":2,"x":791,"v":12},{"s":"cyan","g":2,"x":796.4,"v":8.5},{"s":"cyan","g":2,"x":799.5,"v":8},{"s":"cyan","g":2,"x":803.4,"v":8.6},{"s":"cyan","g":2,"x":807.7,"v":9.3},{"s":"cyan","g":2,"x":812.7,"v":8.5},{"s":"cyan","g":2,"x":818.1,"v":7.9},
{"s":"black","g":1,"x":254.8,"v":8.46},{"s":"black","g":1,"x":257.8,"v":7.9},{"s":"black","g":1,"x":261.4,"v":7.5},{"s":"black","g":1,"x":265,"v":8},{"s":"black","g":1,"x":267.7,"v":8.4},{"s":"black","g":1,"x":271.3,"v":8.2},{"s":"black","g":1,"x":276.7,"v":8.7},{"s":"black","g":1,"x":281,"v":8.75},{"s":"black","g":1,"x":284.7,"v":9.2},{"s":"black","g":1,"x":289.2,"v":9.2},{"s":"black","g":1,"x":293.7,"v":10.2},{"s":"black","g":1,"x":297.3,"v":9.85},{"s":"black","g":1,"x":302.7,"v":10.8},{"s":"black","g":1,"x":306.3,"v":11.06},{"s":"black","g":1,"x":309.9,"v":10.9},{"s":"black","g":1,"x":314.4,"v":11.5},{"s":"black","g":1,"x":319.7,"v":11.9},{"s":"black","g":1,"x":324.2,"v":11.8},{"s":"black","g":1,"x":330.5,"v":12.25},{"s":"black","g":1,"x":335.9,"v":11.8},{"s":"black","g":1,"x":343,"v":11.9},{"s":"black","g":1,"x":349.4,"v":12.6},{"s":"black","g":1,"x":353,"v":11.4},{"s":"black","g":1,"x":355.3,"v":11.06},{"s":"black","g":1,"x":358.3,"v":12},{"s":"black","g":1,"x":361,"v":12.9},{"s":"black","g":1,"x":364.6,"v":11.9},{"s":"black","g":1,"x":369,"v":11.35},{"s":"black","g":1,"x":373.6,"v":11.9},{"s":"black","g":1,"x":377.2,"v":11.9},{"s":"black","g":1,"x":382.6,"v":12.5},{"s":"black","g":1,"x":386.2,"v":12.3},{"s":"black","g":1,"x":390.7,"v":12.5},{"s":"black","g":1,"x":394.8,"v":12.4},{"s":"black","g":1,"x":398.4,"v":12.9},{"s":"black","g":1,"x":402.3,"v":13},{"s":"black","g":1,"x":405.9,"v":13.8},{"s":"black","g":1,"x":411.3,"v":14.5},{"s":"black","g":1,"x":416.7,"v":14.6},{"s":"black","g":1,"x":420.3,"v":14.9},{"s":"black","g":1,"x":423.9,"v":15},{"s":"black","g":1,"x":427.1,"v":15.5},{"s":"black","g":1,"x":432.9,"v":14.7},{"s":"black","g":1,"x":440,"v":15.4},{"s":"black","g":1,"x":444.5,"v":15.8},{"s":"black","g":1,"x":450.8,"v":14.5},{"s":"black","g":1,"x":456.2,"v":14.2},{"s":"black","g":1,"x":461.6,"v":14.2},{"s":"black","g":1,"x":467,"v":13.3},{"s":"black","g":1,"x":471.5,"v":12.6},{"s":"black","g":1,"x":476.5,"v":12.3},
{"s":"black","g":2,"x":602.9,"v":12.8},{"s":"black","g":2,"x":604.6,"v":12.9},{"s":"black","g":2,"x":606.8,"v":12},{"s":"black","g":2,"x":610.3,"v":10.3},{"s":"black","g":2,"x":613.9,"v":9.2},{"s":"black","g":2,"x":617.5,"v":8.4},{"s":"black","g":2,"x":621,"v":8.3},{"s":"black","g":2,"x":626.7,"v":7.6},{"s":"black","g":2,"x":631,"v":8},{"s":"black","g":2,"x":639.6,"v":8.4},{"s":"black","g":2,"x":646,"v":7.8},{"s":"black","g":2,"x":651.7,"v":8.3},{"s":"black","g":2,"x":656,"v":7.9},{"s":"black","g":2,"x":659.5,"v":8.2},{"s":"black","g":2,"x":665.9,"v":7.8},{"s":"black","g":2,"x":669.5,"v":7.25},{"s":"black","g":2,"x":673.8,"v":7.3},{"s":"black","g":2,"x":680.9,"v":6.2},{"s":"black","g":2,"x":688,"v":7.15},{"s":"black","g":2,"x":695.9,"v":6.5},{"s":"black","g":2,"x":702.8,"v":7.15},{"s":"black","g":2,"x":709,"v":7.1},{"s":"black","g":2,"x":714.4,"v":7.45},{"s":"black","g":2,"x":719,"v":7.25},{"s":"black","g":2,"x":726,"v":7.7},{"s":"black","g":2,"x":732.2,"v":7.45},{"s":"black","g":2,"x":739.2,"v":8.1},{"s":"black","g":2,"x":747.7,"v":7.55},{"s":"black","g":2,"x":754.3,"v":8.75},{"s":"black","g":2,"x":762.4,"v":7.4},{"s":"black","g":2,"x":769.3,"v":8.3},{"s":"black","g":2,"x":777.1,"v":8.3},{"s":"black","g":2,"x":782.5,"v":7.9},{"s":"black","g":2,"x":786.4,"v":8.3},{"s":"black","g":2,"x":791,"v":7.6},{"s":"black","g":2,"x":796.9,"v":8.5},{"s":"black","g":2,"x":802.6,"v":7.7},{"s":"black","g":2,"x":808.8,"v":8.4},{"s":"black","g":2,"x":815,"v":7.8},{"s":"black","g":2,"x":820.4,"v":7.9},{"s":"black","g":2,"x":825.9,"v":8.7},{"s":"black","g":2,"x":832,"v":8.4},{"s":"black","g":2,"x":837.2,"v":8.8},{"s":"black","g":2,"x":841.8,"v":8.4},{"s":"black","g":2,"x":849,"v":9.5},{"s":"black","g":2,"x":855.3,"v":9.3},{"s":"black","g":2,"x":860.7,"v":9.7},{"s":"black","g":2,"x":865.3,"v":9.1},{"s":"black","g":2,"x":869.2,"v":9.4},{"s":"black","g":2,"x":874.6,"v":9},{"s":"black","g":2,"x":882.4,"v":9.65},{"s":"black","g":2,"x":887,"v":9.4},{"s":"black","g":2,"x":894,"v":10.06},{"s":"black","g":2,"x":899.8,"v":12.4},{"s":"black","g":2,"x":905.6,"v":10.4},{"s":"black","g":2,"x":911.8,"v":12.9},{"s":"black","g":2,"x":919.2,"v":9.75},{"s":"black","g":2,"x":921,"v":9.95}
],
"mean":[
{"g":1,"x":253.3,"v":4.9},{"g":1,"x":261.4,"v":4.75},{"g":1,"x":269.5,"v":4.95},{"g":1,"x":274,"v":4.95},{"g":1,"x":279.9,"v":4.75},{"g":1,"x":285.6,"v":5.3},{"g":1,"x":290.1,"v":5.2},{"g":1,"x":292.8,"v":5.95},{"g":1,"x":301.8,"v":6},{"g":1,"x":306.3,"v":5.95},{"g":1,"x":316.2,"v":6.4},{"g":1,"x":326,"v":6},{"g":1,"x":332.3,"v":6.6},{"g":1,"x":341.3,"v":6.6},{"g":1,"x":345.8,"v":6.65},{"g":1,"x":352.1,"v":6.9},{"g":1,"x":355.7,"v":6.5},{"g":1,"x":362,"v":6.8},{"g":1,"x":370.9,"v":6.4},{"g":1,"x":379.9,"v":6.6},{"g":1,"x":385.3,"v":6.2},{"g":1,"x":393.4,"v":6.3},{"g":1,"x":399.6,"v":6.5},{"g":1,"x":403.2,"v":6.4},{"g":1,"x":408.6,"v":6.9},{"g":1,"x":418.5,"v":6.7},{"g":1,"x":427.5,"v":6.75},{"g":1,"x":432.9,"v":6.6},{"g":1,"x":444.5,"v":7.7},{"g":1,"x":450.8,"v":7.25},{"g":1,"x":456.2,"v":7.55},{"g":1,"x":461.6,"v":7.6},{"g":1,"x":470.6,"v":7.75},{"g":1,"x":475,"v":7.25},{"g":1,"x":477.7,"v":6.6},{"g":1,"x":479.5,"v":6},{"g":1,"x":484.9,"v":6.1},{"g":1,"x":490.3,"v":6.05},{"g":1,"x":493.9,"v":5.9},{"g":1,"x":499.9,"v":6.3},{"g":1,"x":503.4,"v":7.25},{"g":1,"x":507.4,"v":8.5},{"g":1,"x":511.3,"v":7.25},{"g":1,"x":513.4,"v":6.5},{"g":1,"x":517.7,"v":6.6},{"g":1,"x":523.4,"v":6},{"g":1,"x":526.2,"v":7.25},{"g":1,"x":529,"v":12},{"g":1,"x":531.5,"v":12.65},{"g":1,"x":534,"v":11.4},{"g":1,"x":537.2,"v":9.75},{"g":1,"x":541.9,"v":11.4},{"g":1,"x":544.8,"v":10.8},{"g":1,"x":549.8,"v":9.65},{"g":1,"x":556.6,"v":10.7},{"g":1,"x":558.3,"v":10.2},{"g":1,"x":559.7,"v":8.7},{"g":1,"x":562.6,"v":8.7},{"g":1,"x":568.3,"v":10.3},{"g":1,"x":572.6,"v":9.3},{"g":1,"x":579.7,"v":8.2},{"g":1,"x":585.4,"v":7.25},{"g":1,"x":589,"v":7.35},
{"g":2,"x":608.2,"v":7.3},{"g":2,"x":613.9,"v":6.7},{"g":2,"x":623.2,"v":6.4},{"g":2,"x":632.4,"v":5.5},{"g":2,"x":639.6,"v":5.3},{"g":2,"x":646,"v":5.85},{"g":2,"x":653.8,"v":5.6},{"g":2,"x":658.1,"v":5.9},{"g":2,"x":669.5,"v":5.3},{"g":2,"x":675.9,"v":5.5},{"g":2,"x":680.9,"v":5.05},{"g":2,"x":688.7,"v":5.55},{"g":2,"x":695.2,"v":4.85},{"g":2,"x":701.2,"v":5.3},{"g":2,"x":709,"v":5.4},{"g":2,"x":716.7,"v":5.85},{"g":2,"x":729.1,"v":5.9},{"g":2,"x":734.5,"v":5.6},{"g":2,"x":741.5,"v":5.9},{"g":2,"x":752.3,"v":5.9},{"g":2,"x":755.4,"v":6.2},{"g":2,"x":760.8,"v":5.85},{"g":2,"x":770.9,"v":6},{"g":2,"x":778.2,"v":6.4},{"g":2,"x":786.4,"v":6.25},{"g":2,"x":792.6,"v":5.6},{"g":2,"x":801.9,"v":5.15},{"g":2,"x":807.7,"v":5.7},{"g":2,"x":814.2,"v":5.3},{"g":2,"x":825.1,"v":5.05},{"g":2,"x":835.9,"v":5.1},{"g":2,"x":842.1,"v":4.85},{"g":2,"x":849.8,"v":5.55},{"g":2,"x":854.5,"v":5.15},{"g":2,"x":865.3,"v":5},{"g":2,"x":876.2,"v":4.8},{"g":2,"x":882.4,"v":5.05},{"g":2,"x":890.2,"v":5.05},{"g":2,"x":894.7,"v":5.8},{"g":2,"x":900.2,"v":7.35},{"g":2,"x":905.9,"v":6},{"g":2,"x":911.8,"v":7.75},{"g":2,"x":916.4,"v":6},{"g":2,"x":919.5,"v":5.55},{"g":2,"x":922.1,"v":5.7}
]
},
"vconcat":[
{"width":1875,"height":513.5,"resolve":{"axis":{"x":"independent","y":"independent"}},
"encoding":{"x":{"field":"x","type":"quantitative","scale":{"domain":[235,934.5],"nice":false,"zero":false},"axis":null},"y":{"field":"v","type":"quantitative","scale":{"domain":[0,300],"nice":false,"zero":false},"axis":null}},
"layer":[
{"data":{"name":"shade"},"mark":{"type":"rect"},"encoding":{"y":null,"x2":{"field":"x1"},"fill":{"field":"season","type":"nominal","legend":null,"scale":{"domain":["winter 2016","gap","early summer 2016","late summer 2016","winter 2017","early summer 2017"],"range":["#fafafa","#ffffff","#f5f5f5","#efefef","#fafafa","#f4f4f4"]}}}},
{"data":{"name":"bounds"},"mark":{"type":"rule","stroke":"#8c8c8c","strokeWidth":2,"strokeDash":[28,9]},"encoding":{"y":null}},
{"data":{"name":"vel"},"mark":{"type":"line","interpolate":"monotone","strokeWidth":4,"strokeJoin":"round"},"encoding":{"detail":{"field":"g"},"color":{"field":"s","type":"nominal","legend":null,"scale":{"domain":["usfc","ub","ud"],"range":["#000000","#0000ff","#ff0000"]}},"strokeDash":{"field":"k","type":"nominal","legend":null,"scale":{"domain":["solid","dashed"],"range":[[1,0],[24,14]]}}}},
{"data":{"name":"legendBox"},"mark":{"type":"rect","fill":"#ffffff","stroke":"#2b2b2b","strokeWidth":4},"encoding":{"x2":{"field":"x1"},"y2":{"field":"v1"}}},
{"data":{"name":"legendLines"},"mark":{"type":"rule","strokeWidth":4},"encoding":{"x2":{"field":"x1"},"color":{"field":"s","type":"nominal","legend":null,"scale":{"domain":["usfc","ub","ud"],"range":["#000000","#0000ff","#ff0000"]}}}},
{"data":{"name":"legendU"},"mark":{"type":"text","align":"left","baseline":"middle","fontSize":36,"color":"#111"},"encoding":{"text":{"field":"t"}}},
{"data":{"name":"legendSub"},"mark":{"type":"text","align":"left","baseline":"middle","fontSize":31,"color":"#111"},"encoding":{"text":{"field":"t"}}},
{"data":{"name":"seasonText"},"mark":{"type":"text","align":"center","baseline":"middle","fontSize":32,"color":"#111"},"encoding":{"text":{"field":"t"}}},
{"data":{"values":[{"x":620.5,"v":280,"t":"network averaged velocity components"}]},"mark":{"type":"text","align":"left","baseline":"middle","fontSize":40,"fontWeight":"bold","color":"#000"},"encoding":{"text":{"field":"t"}}},
{"data":{"values":[{"x":183.5,"v":297,"t":"a"}]},"mark":{"type":"text","align":"center","baseline":"middle","fontSize":35,"fontWeight":"bold","color":"#000"},"encoding":{"text":{"field":"t"}}},
{"data":{"name":"frame"},"mark":{"type":"rule","opacity":0},"encoding":{"x":{"field":"x","type":"quantitative","scale":{"domain":[235,934.5],"nice":false,"zero":false},"axis":{"orient":"bottom","zindex":1,"labels":false,"ticks":false,"grid":false,"title":null,"domainColor":"#8a8a8a","domainWidth":4}},"y":{"field":"v","type":"quantitative","scale":{"domain":[0,300],"nice":false,"zero":false},"axis":{"orient":"left","zindex":1,"labels":false,"ticks":false,"grid":false,"title":null,"domainColor":"#8a8a8a","domainWidth":4}}}},
{"data":{"name":"frame"},"mark":{"type":"rule","opacity":0},"encoding":{"x":{"field":"x","type":"quantitative","scale":{"domain":[235,934.5],"nice":false,"zero":false},"axis":{"orient":"top","zindex":1,"labels":false,"ticks":false,"grid":false,"title":null,"domainColor":"#8a8a8a","domainWidth":4}},"y":{"field":"v","type":"quantitative","scale":{"domain":[0,300],"nice":false,"zero":false},"axis":{"orient":"right","zindex":1,"labels":false,"ticks":false,"grid":false,"title":null,"domainColor":"#2b2b2b","domainWidth":5}}}},
{"data":{"name":"frame"},"mark":{"type":"rule","opacity":0},"encoding":{"x":{"field":"x","type":"quantitative","scale":{"domain":[235,934.5],"nice":false,"zero":false},"axis":{"orient":"bottom","zindex":1,"values":[300,400,500,600,700,800,900],"grid":false,"title":null,"domainColor":"#2b2b2b","domainWidth":4,"domainDash":[15,24],"tickColor":"#333","tickWidth":4,"tickSize":-22,"labelFontSize":39,"labelColor":"#333","labelPadding":45,"labelFont":"Liberation Sans"}},"y":{"field":"v","type":"quantitative","scale":{"domain":[0,300],"nice":false,"zero":false},"axis":{"orient":"left","zindex":1,"values":[0,100,200,300],"grid":false,"title":"velocity (ma⁻¹)","titleFontSize":44,"titleFontWeight":"normal","titleColor":"#333","titlePadding":14,"domainColor":"#2b2b2b","domainWidth":4,"domainDash":[15,24],"tickColor":"#333","tickWidth":4,"tickSize":-22,"labelFontSize":39,"labelColor":"#333","labelPadding":40,"labelFont":"Liberation Sans"}}}},
{"data":{"name":"frame"},"mark":{"type":"rule","opacity":0},"encoding":{"x":{"field":"x","type":"quantitative","scale":{"domain":[235,934.5],"nice":false,"zero":false},"axis":{"orient":"top","zindex":1,"values":[300,400,500,600,700,800,900],"grid":false,"title":null,"labels":false,"domainColor":"#2b2b2b","domainWidth":4,"domainDash":[15,24],"tickColor":"#333","tickWidth":4,"tickSize":-22}},"y":{"field":"v","type":"quantitative","scale":{"domain":[0,300],"nice":false,"zero":false},"axis":{"orient":"right","zindex":1,"values":[0,100,200,300],"grid":false,"title":null,"labels":false,"domain":false,"tickColor":"#333","tickWidth":4,"tickSize":-22}}}}
]},
{"width":1875,"height":512,"resolve":{"axis":{"x":"independent","y":"independent"}},
"encoding":{"x":{"field":"x","type":"quantitative","scale":{"domain":[235,934.5],"nice":false,"zero":false},"axis":null},"y":{"field":"v","type":"quantitative","scale":{"domain":[0,30],"nice":false,"zero":false},"axis":null}},
"layer":[
{"data":{"name":"shade"},"mark":{"type":"rect"},"encoding":{"y":null,"x2":{"field":"x1"},"fill":{"field":"season","type":"nominal","legend":null,"scale":{"domain":["winter 2016","gap","early summer 2016","late summer 2016","winter 2017","early summer 2017"],"range":["#fafafa","#ffffff","#f5f5f5","#efefef","#fafafa","#f4f4f4"]}}}},
{"data":{"name":"bounds"},"mark":{"type":"rule","stroke":"#8c8c8c","strokeWidth":2,"strokeDash":[28,9]},"encoding":{"y":null}},
{"data":{"name":"def"},"mark":{"type":"line","interpolate":"monotone","strokeWidth":2.2,"strokeJoin":"round"},"encoding":{"detail":{"field":"g"},"color":{"field":"s","type":"nominal","legend":null,"scale":{"domain":["orange","magenta","green","red","blue","cyan","black","white","purple"],"range":["#ff8000","#ff00ff","#00e600","#ff0000","#0000e6","#00ffff","#000000","#ffffff","#8000e0"]}}}},
{"data":{"name":"mean"},"mark":{"type":"line","interpolate":"monotone","strokeWidth":12,"stroke":"#ff0000","strokeJoin":"round"},"encoding":{"detail":{"field":"g"}}},
{"data":{"name":"diamonds"},"mark":{"type":"point","filled":true,"color":"#000","opacity":1,"size":1000,"shape":"M0,-1L0.72,0L0,1L-0.72,0Z"}},
{"data":{"name":"insetBox"},"mark":{"type":"rect","fill":"#ffffff","stroke":"#000","strokeWidth":5},"encoding":{"x2":{"field":"x1"},"y2":{"field":"v1"}}},
{"data":{"name":"insetTicks"},"mark":{"type":"rule","stroke":"#333","strokeWidth":1.2},"encoding":{"x2":{"field":"x1"},"y2":{"field":"v1"}}},
{"data":{"name":"sites"},"mark":{"type":"point","filled":true,"size":484,"opacity":1,"stroke":"#444","strokeWidth":1},"encoding":{"color":{"field":"s","type":"nominal","legend":null,"scale":{"domain":["orange","magenta","green","red","blue","cyan","black","white","purple"],"range":["#ff8000","#ff00ff","#00e600","#ff0000","#0000e6","#00ffff","#000000","#ffffff","#8000e0"]}}}},
{"data":{"name":"stakes"},"mark":{"type":"point","filled":true,"shape":"triangle-down","size":170,"color":"#000","opacity":1}},
{"data":{"name":"arrow"},"mark":{"type":"rule","stroke":"#000","strokeWidth":3},"encoding":{"y2":{"field":"v1"}}},
{"data":{"name":"arrowHead"},"mark":{"type":"point","filled":true,"shape":"triangle-up","size":120,"color":"#000","opacity":1}},
{"data":{"values":[{"x":320.3,"v":26.4,"t":"site map"}]},"mark":{"type":"text","align":"left","baseline":"middle","fontSize":21,"color":"#111"},"encoding":{"text":{"field":"t"}}},
{"data":{"values":[{"x":393.7,"v":26,"t":"N"}]},"mark":{"type":"text","align":"center","baseline":"middle","fontSize":22,"fontWeight":"bold","color":"#000"},"encoding":{"text":{"field":"t"}}},
{"data":{"values":[{"x":620.5,"v":28.1,"t":"borehole deformation velocities"}]},"mark":{"type":"text","align":"left","baseline":"middle","fontSize":40,"fontWeight":"bold","color":"#000"},"encoding":{"text":{"field":"t"}}},
{"data":{"values":[{"x":183.5,"v":32.2,"t":"b"}]},"mark":{"type":"text","align":"center","baseline":"middle","fontSize":35,"fontWeight":"bold","color":"#000"},"encoding":{"text":{"field":"t"}}},
{"data":{"name":"frame"},"mark":{"type":"rule","opacity":0},"encoding":{"x":{"field":"x","type":"quantitative","scale":{"domain":[235,934.5],"nice":false,"zero":false},"axis":{"orient":"bottom","zindex":1,"labels":false,"ticks":false,"grid":false,"title":null,"domainColor":"#8a8a8a","domainWidth":4}},"y":{"field":"v","type":"quantitative","scale":{"domain":[0,30],"nice":false,"zero":false},"axis":{"orient":"left","zindex":1,"labels":false,"ticks":false,"grid":false,"title":null,"domainColor":"#8a8a8a","domainWidth":4}}}},
{"data":{"name":"frame"},"mark":{"type":"rule","opacity":0},"encoding":{"x":{"field":"x","type":"quantitative","scale":{"domain":[235,934.5],"nice":false,"zero":false},"axis":{"orient":"top","zindex":1,"labels":false,"ticks":false,"grid":false,"title":null,"domainColor":"#8a8a8a","domainWidth":4}},"y":{"field":"v","type":"quantitative","scale":{"domain":[0,30],"nice":false,"zero":false},"axis":{"orient":"right","zindex":1,"labels":false,"ticks":false,"grid":false,"title":null,"domainColor":"#2b2b2b","domainWidth":5}}}},
{"data":{"name":"frame"},"mark":{"type":"rule","opacity":0},"encoding":{"x":{"field":"x","type":"quantitative","scale":{"domain":[235,934.5],"nice":false,"zero":false},"axis":{"orient":"bottom","zindex":1,"values":[300,400,500,600,700,800,900],"grid":false,"title":"day of year 2015","titleFontSize":44,"titleFontWeight":"normal","titleColor":"#333","titlePadding":14,"domainColor":"#2b2b2b","domainWidth":4,"domainDash":[15,24],"tickColor":"#333","tickWidth":4,"tickSize":-22,"labelFontSize":39,"labelColor":"#333","labelPadding":45,"labelFont":"Liberation Sans"}},"y":{"field":"v","type":"quantitative","scale":{"domain":[0,30],"nice":false,"zero":false},"axis":{"orient":"left","zindex":1,"values":[0,10,20,30],"grid":false,"title":"deformation velocity (ma⁻¹)","titleFontSize":44,"titleFontWeight":"normal","titleColor":"#333","titlePadding":14,"domainColor":"#2b2b2b","domainWidth":4,"domainDash":[15,24],"tickColor":"#333","tickWidth":4,"tickSize":-22,"labelFontSize":39,"labelColor":"#333","labelPadding":40,"labelFont":"Liberation Sans"}}}},
{"data":{"name":"frame"},"mark":{"type":"rule","opacity":0},"encoding":{"x":{"field":"x","type":"quantitative","scale":{"domain":[235,934.5],"nice":false,"zero":false},"axis":{"orient":"top","zindex":1,"values":[300,400,500,600,700,800,900],"grid":false,"title":null,"labels":false,"domainColor":"#2b2b2b","domainWidth":4,"domainDash":[15,24],"tickColor":"#333","tickWidth":4,"tickSize":-22}},"y":{"field":"v","type":"quantitative","scale":{"domain":[0,30],"nice":false,"zero":false},"axis":{"orient":"right","zindex":1,"values":[0,10,20,30],"grid":false,"title":null,"labels":false,"domain":false,"tickColor":"#333","tickWidth":4,"tickSize":-22}}}}
]}
]}
